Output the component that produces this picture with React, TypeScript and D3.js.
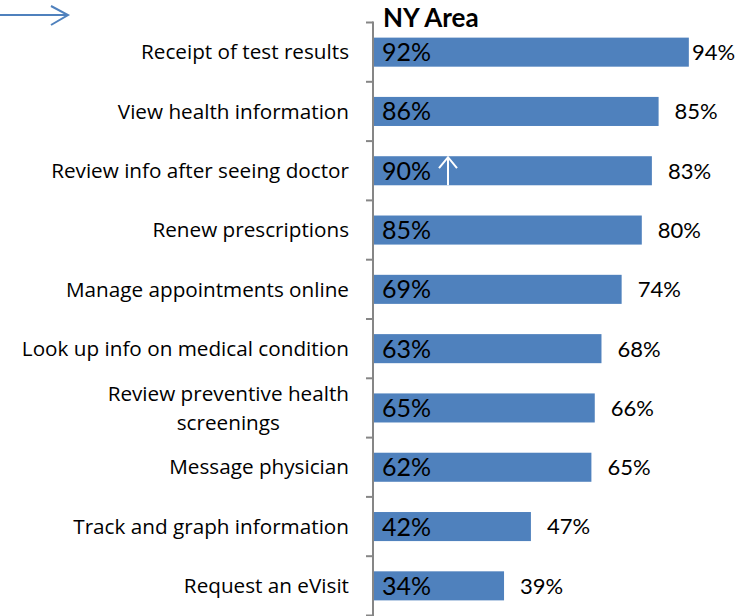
import React, { useEffect, useRef } from "react";
import * as d3 from "d3";

const categories = [
  "Receipt of test results",
  "View health information",
  "Review info after seeing doctor",
  "Renew prescriptions",
  "Manage appointments online",
  "Look up info on medical condition",
  "Review preventive health|screenings",
  "Message physician",
  "Track and graph information",
  "Request an eVisit",
];
const nyArea = [92, 86, 90, 85, 69, 63, 65, 62, 42, 34];
const overall = [94, 85, 83, 80, 74, 68, 66, 65, 47, 39];
const title = "NY Area";

const W = 756;
const H = 616;
const FONT = "Lato, 'Open Sans', sans-serif";
const LFONT = "'Open Sans', sans-serif";
const BLUE = "#4F81BD";

export default function App() {
  const ref = useRef<SVGSVGElement>(null);
  useEffect(() => {
    const svg = d3.select(ref.current);
    svg.selectAll("*").remove();
    const x0 = 373;
    const x = d3.scaleLinear().domain([0, 100]).range([x0, x0 + 336]);
    const y = d3.scaleBand<string>().domain(categories).range([22.5, 615.5]).padding(0);
    const barH = y.bandwidth() * 0.49;

    // bars
    svg
      .append("g")
      .selectAll("rect")
      .data(categories)
      .join("rect")
      .attr("x", x(0))
      .attr("y", (d) => y(d)! + (y.bandwidth() - barH) / 2)
      .attr("width", (d, i) => x(overall[i]) - x(0))
      .attr("height", barH)
      .attr("fill", BLUE);

    // axis
    const ax = svg.append("g").attr("stroke", "#868686").attr("stroke-width", 2);
    ax.append("line").attr("x1", x0).attr("x2", x0).attr("y1", y.range()[0] - 1).attr("y2", H + 5);
    const ticks = categories.map((c) => y(c)!).concat([y.range()[1]]);
    ax.selectAll("line.t")
      .data(ticks)
      .join("line")
      .attr("class", "t")
      .attr("x1", x0 - 7)
      .attr("x2", x0)
      .attr("y1", (d) => d)
      .attr("y2", (d) => d);

    // category labels
    const lab = svg.append("g").attr("font-family", LFONT).attr("font-size", 20.7).attr("fill", "#000");
    categories.forEach((c) => {
      const lines = c.split("|");
      const cy = y(c)! + y.bandwidth() / 2;
      const lh = 29;
      if (lines.length === 1) {
        lab.append("text").attr("x", 349).attr("y", cy).attr("dy", "0.35em").attr("text-anchor", "end").text(c);
      } else {
        const t1 = lab
          .append("text")
          .attr("x", 349)
          .attr("y", cy - lh / 2)
          .attr("dy", "0.35em")
          .attr("text-anchor", "end")
          .text(lines[0]);
        const w = (t1.node() as SVGTextElement).getComputedTextLength();
        lab
          .append("text")
          .attr("x", 349 - w / 2)
          .attr("y", cy + lh / 2)
          .attr("dy", "0.35em")
          .attr("text-anchor", "middle")
          .text(lines[1]);
      }
    });

    // inner labels (NY area)
    svg
      .append("g")
      .attr("font-family", FONT)
      .attr("font-size", 25)
      .selectAll("text")
      .data(categories)
      .join("text")
      .attr("x", x0 + 9)
      .attr("y", (d) => y(d)! + y.bandwidth() / 2)
      .attr("dy", "0.36em")
      .text((d, i) => `${nyArea[i]}%`);

    // outer labels (overall)
    svg
      .append("g")
      .attr("font-family", FONT)
      .attr("font-size", 22)
      .selectAll("text")
      .data(categories)
      .join("text")
      .attr("x", (d, i) => Math.min(x(overall[i]) + 16, 692))
      .attr("y", (d) => y(d)! + y.bandwidth() / 2)
      .attr("dy", "0.36em")
      .text((d, i) => `${overall[i]}%`);

    // title
    svg
      .append("text")
      .attr("x", 383)
      .attr("y", 27)
      .attr("font-family", FONT)
      .attr("font-weight", "bold")
      .attr("font-size", 26)
      .text(title);

    // top-left arrow
    const a = svg.append("g").attr("stroke", BLUE).attr("stroke-width", 2).attr("fill", "none");
    a.append("line").attr("x1", 0).attr("x2", 68).attr("y1", 15).attr("y2", 15);
    a.append("polyline").attr("points", "51,6 68,15 51,25");

    // white arrow inside bar 3
    const c3 = categories[2];
    const top3 = y(c3)! + (y.bandwidth() - barH) / 2;
    const w = svg.append("g").attr("stroke", "#fff").attr("stroke-width", 2).attr("fill", "none");
    w.append("line").attr("x1", 448).attr("x2", 448).attr("y1", top3 + 1).attr("y2", top3 + barH);
    w.append("polyline").attr("points", `439,${top3 + 12} 448,${top3 + 1} 457,${top3 + 12}`);
  }, []);
  return (
    <svg
      ref={ref}
      width={W}
      height={H}
      style={{ position: "absolute", left: 0, top: 0, background: "#fff" }}
    />
  );
}
